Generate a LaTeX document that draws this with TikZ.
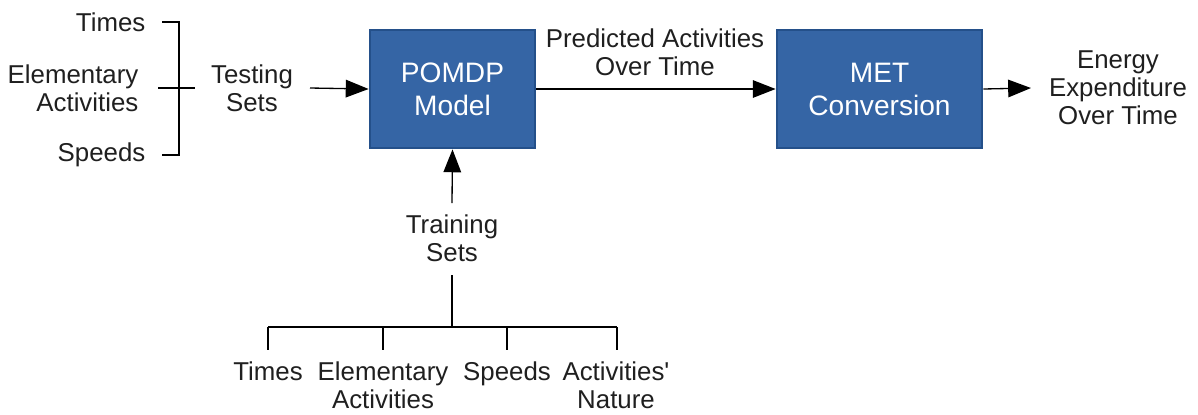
\documentclass[tikz,border=0pt]{standalone}
\usepackage{fontspec}
\setmainfont{Liberation Sans}[Ligatures=TeXOff]
\usetikzlibrary{arrows.meta}
\definecolor{blockfill}{HTML}{3565A5}
\definecolor{blockline}{HTML}{24508A}

\begin{document}
\begin{tikzpicture}[x=0.02cm,y=-0.02cm,font=\fontsize{14.7}{15.9}\selectfont,line width=0.75pt,
  block/.style={draw=blockline,line width=1.6pt,fill=blockfill,text=white,align=center,minimum height=2.36cm,font=\fontsize{16}{18.8}\selectfont},
  lbl/.style={align=center,inner sep=0pt,text=black!88},
  arr/.style={-{Triangle[length=13pt,width=10pt]}}]
\useasboundingbox (0,0) rectangle (1198,414);
\coordinate (TA) at (162,22); \coordinate (TB) at (179,22); \coordinate (TC) at (179,155); \coordinate (TD) at (162,155);
\coordinate (TM1) at (158,88); \coordinate (TM2) at (195,88); \coordinate (TS) at (310,88);
\coordinate (RS) at (452,203);
\coordinate (RA) at (452,275); \coordinate (RB) at (452,327); \coordinate (R1) at (268,327); \coordinate (R4) at (617,327);
\coordinate (OUT) at (1031,88);
% inputs on the left
\node[lbl,anchor=east] (times) at (146,22) {Times};
\node[lbl,anchor=east,align=right] (elem) at (139,88) {Elementary\\Activities};
\node[lbl,anchor=east] (speeds) at (146,155) {Speeds};
\node[lbl] (testing) at (252,88) {Testing\\Sets};
\draw (TA)--(TB)--(TC)--(TD); \draw (TM1)--(TM2);
% blocks
\node[block,minimum width=3.3cm] (pomdp) at (452.5,89) {POMDP\\Model};
\node[block,minimum width=4.1cm] (met) at (879.5,89) {MET\\Conversion};
\node[lbl] (pred) at (655,52) {Predicted Activities\\Over Time};
\node[lbl] (energy) at (1118,88) {Energy\\Expenditure\\Over Time};
\draw[arr] (TS)--(pomdp.west);
\draw[arr] (pomdp.east)--(met.west);
\draw[arr] (met.east)--(OUT);
% training sets
\node[lbl] (training) at (452,238) {Training\\Sets};
\draw[arr] (RS)--(pomdp.south);
\draw (RA)--(RB); \draw (R1)--(R4);
\node[lbl,anchor=north] (btimes) at (268,361) {Times};
\node[lbl,anchor=north] (belem) at (383,361) {Elementary\\Activities};
\node[lbl,anchor=north] (bspeeds) at (507,361) {Speeds};
\node[lbl,anchor=north] (bnature) at (616,361) {Activities'\\Nature};
\foreach \n/\x in {btimes/268,belem/383,bspeeds/507,bnature/617}
  \draw (\x,327)--(\x,350);
\end{tikzpicture}
\end{document}
